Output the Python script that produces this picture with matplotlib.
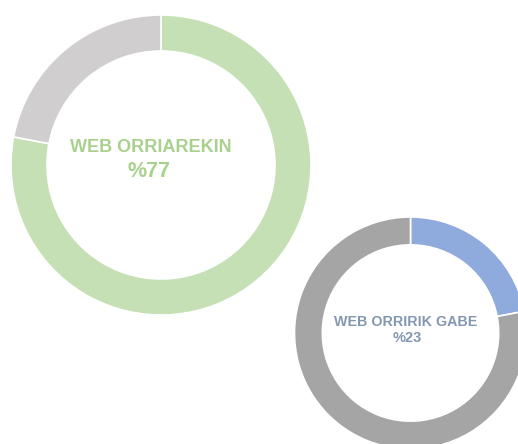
import matplotlib
matplotlib.use('Agg')
import matplotlib.pyplot as plt

W, H = 518, 444

# donut 1: with web page (wedge sizes as drawn in the picture)
labels1 = ['WEB ORRIAREKIN', 'BESTE']
values1 = [78, 22]
colors1 = ['#C5E0B4', '#D0CECE']
title1 = 'WEB ORRIAREKIN'
pct1 = '%77'

# donut 2: without web page
labels2 = ['WEB ORRIRIK GABE', 'BESTE']
values2 = [22, 78]
colors2 = ['#8FAADC', '#A5A5A5']
title2 = 'WEB ORRIRIK GABE'
pct2 = '%23'

plt.rcParams['font.family'] = ['Liberation Sans', 'DejaVu Sans']

fig = plt.figure(figsize=(W / 100, H / 100), dpi=100)
ax = fig.add_axes([0, 0, 1, 1])

def donut(ax, vals, cols, cx, cy, r):
    ax.pie(vals, colors=cols, startangle=90, counterclock=False,
           center=(cx, H - cy), radius=r,
           wedgeprops=dict(width=r * 0.24, edgecolor='white', linewidth=1.2))

donut(ax, values1, colors1, 161, 165, 150)
donut(ax, values2, colors2, 410.5, 333, 116)

ax.text(151, H - 152, title1, ha='center', va='baseline', fontsize=13,
        fontweight='bold', color='#A9D18E')
ax.text(149, H - 177, pct1, ha='center', va='baseline', fontsize=15.5,
        fontweight='bold', color='#A9D18E')
ax.text(406, H - 326, title2, ha='center', va='baseline', fontsize=10.3,
        fontweight='bold', color='#8497B0')
ax.text(407, H - 342, pct2, ha='center', va='baseline', fontsize=10.5,
        fontweight='bold', color='#8497B0')

ax.set_xlim(0, W)
ax.set_ylim(0, H)
ax.set_aspect('equal')
ax.axis('off')

fig.savefig('out.png', dpi=100)
